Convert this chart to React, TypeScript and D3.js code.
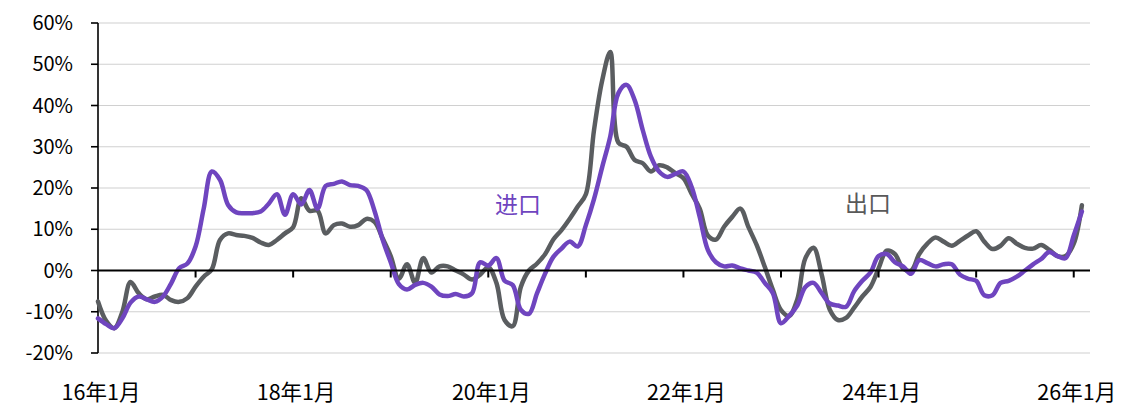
import React from "react";
import * as d3 from "d3";

// 出口 同比 (%), monthly from 2016-01
const exportYoY: number[] = [
  -7.5, -12.2, -14, -10, -2.8, -5.5, -7, -6.3, -5.9, -7.2, -7.6, -6.7,
  -3.9, -1.5, 0.3, 7.4, 9, 8.6, 8.4, 7.9, 6.8, 6.2, 7.4, 9,
  10.5, 17.5, 14.5, 14.5, 9, 11, 11.4, 10.6, 11, 12.5, 11.8, 7.8,
  3.5, -2, 1.5, -3, 3, -0.5, 1, 1, 0, -1, -2.2, -1,
  0.8, -3, -12, -13.5, -4, 0, 1.7, 4, 7.5, 9.8, 12.5, 15.5,
  18.5, 34, 46, 53, 31, 30, 26.8, 26, 24, 25.5, 25, 23.6,
  22.4, 18.6, 15, 8.5, 7.5, 10.6, 13, 15, 10.5, 6.2, 0.9, -4.7,
  -9.6, -11, -7, 3, 5.5, -1, -9.5, -12, -11.5, -9, -6.3, -4,
  0.5, 4.8, 4, 0.5, 0, 4, 6.5, 8, 7, 6, 7.2, 8.5,
  9.5, 7, 5.2, 6, 7.8, 6.5, 5.5, 5.3, 6.2, 5, 3.5, 3.5,
  6.5, 15.8,
];

// 进口 同比 (%), monthly from 2016-01
const importYoY: number[] = [
  -11.6, -13, -14, -11.6, -7.8, -6.3, -7, -7.6, -6.3, -3.1, 0.6, 1.7,
  5.8, 15, 24, 22, 15.9, 14.1, 13.9, 13.9, 14.3, 16.2, 18.5, 13.5,
  18.5, 16, 19.5, 15, 20.5, 21, 21.6, 20.7, 20.5, 19.5, 14.5, 7.5,
  2, -3.3, -4.6, -3.5, -3, -3.9, -5.8, -6.2, -5.7, -6.3, -5.5, 2,
  1.2, 3, -2.5, -3.5, -9.5, -10.5, -5.5, -0.7, 3.3, 5.3, 7, 5.8,
  11, 17.3, 25, 32.5, 43, 45, 41.3, 34, 27.6, 24, 22.7, 23.4,
  24, 20.3, 13, 5, 2, 1, 1.2, 0.5, 0, -0.5, -3, -5.5,
  -12.8, -11, -8.5, -4, -3, -5.5, -8, -8.5, -8.8, -5, -2.5, -0.5,
  3.5, 4, 2, 1, -0.8, 2.5, 1.8, 1, 1.5, 1.5, -1, -2,
  -2.5, -6, -6, -3, -2.5, -1.5, 0, 1.5, 2.8, 4.5, 3.5, 3,
  8.5, 14.3,
];

const yTicks: number[] = [-20, -10, 0, 10, 20, 30, 40, 50, 60];
const xLabelMonths: number[] = [0, 24, 48, 72, 96, 120];
const xLabels: string[] = ["16年1月", "18年1月", "20年1月", "22年1月", "24年1月", "26年1月"];
const xTickMonths: number[] = [12, 24, 36, 48, 60, 72, 84, 96, 108, 120];

const seriesNames = { imp: "进口", exp: "出口" };

const W = 1126;
const H = 407;
const left = 98;
const right = 1090;
const top = 23;
const bottom = 353;

const PURPLE = "#6f45bf";
const GRAY = "#5a5d60";
const FONT = "'Noto Sans CJK SC', 'Noto Sans', sans-serif";

export default function App() {
  const x = d3.scaleLinear().domain([0, 122]).range([left, right]);
  const y = d3.scaleLinear().domain([-20, 60]).range([bottom, top]);

  const line = d3
    .line<number>()
    .x((_, i) => x(i))
    .y((d) => y(d))
    .curve(d3.curveCatmullRom.alpha(0.5));

  return (
    <div style={{ position: "absolute", left: 0, top: 0 }}>
      <svg width={W} height={H} style={{ display: "block", background: "#fff" }}>
        {yTicks.map((t) => (
          <line
            key={"g" + t}
            x1={left}
            x2={right}
            y1={y(t)}
            y2={y(t)}
            stroke="#d0d0d0"
            strokeWidth={1.2}
          />
        ))}
        <line x1={left} x2={left} y1={top} y2={bottom} stroke="#000" strokeWidth={1.6} />
        {yTicks.map((t) => (
          <g key={"yt" + t}>
            <line x1={left - 7} x2={left} y1={y(t)} y2={y(t)} stroke="#000" strokeWidth={1.6} />
            <text
              x={73}
              y={y(t)}
              dy="0.36em"
              textAnchor="end"
              fontFamily={FONT}
              fontSize={20}
              fill="#000"
            >
              {t + "%"}
            </text>
          </g>
        ))}
        <path d={line(exportYoY) || ""} fill="none" stroke={GRAY} strokeWidth={4.5} strokeLinejoin="round" strokeLinecap="round" />
        <path d={line(importYoY) || ""} fill="none" stroke={PURPLE} strokeWidth={4.5} strokeLinejoin="round" strokeLinecap="round" />
        <line x1={left} x2={right} y1={y(0)} y2={y(0)} stroke="#000" strokeWidth={2} />
        {xTickMonths.map((m) => (
          <line key={"xt" + m} x1={x(m)} x2={x(m)} y1={y(0)} y2={y(0) + 7} stroke="#000" strokeWidth={2} />
        ))}
        {xLabelMonths.map((m, i) => (
          <text
            key={"xl" + m}
            x={x(m) + 3}
            y={392}
            dy="0.36em"
            textAnchor="middle"
            fontFamily={FONT}
            fontSize={21.5}
            fill="#000"
          >
            {xLabels[i]}
          </text>
        ))}
        <text x={518} y={205} dy="0.36em" textAnchor="middle" fontFamily={FONT} fontSize={23} fill={PURPLE}>
          {seriesNames.imp}
        </text>
        <text x={868} y={204} dy="0.36em" textAnchor="middle" fontFamily={FONT} fontSize={23} fill="#595959">
          {seriesNames.exp}
        </text>
      </svg>
    </div>
  );
}
